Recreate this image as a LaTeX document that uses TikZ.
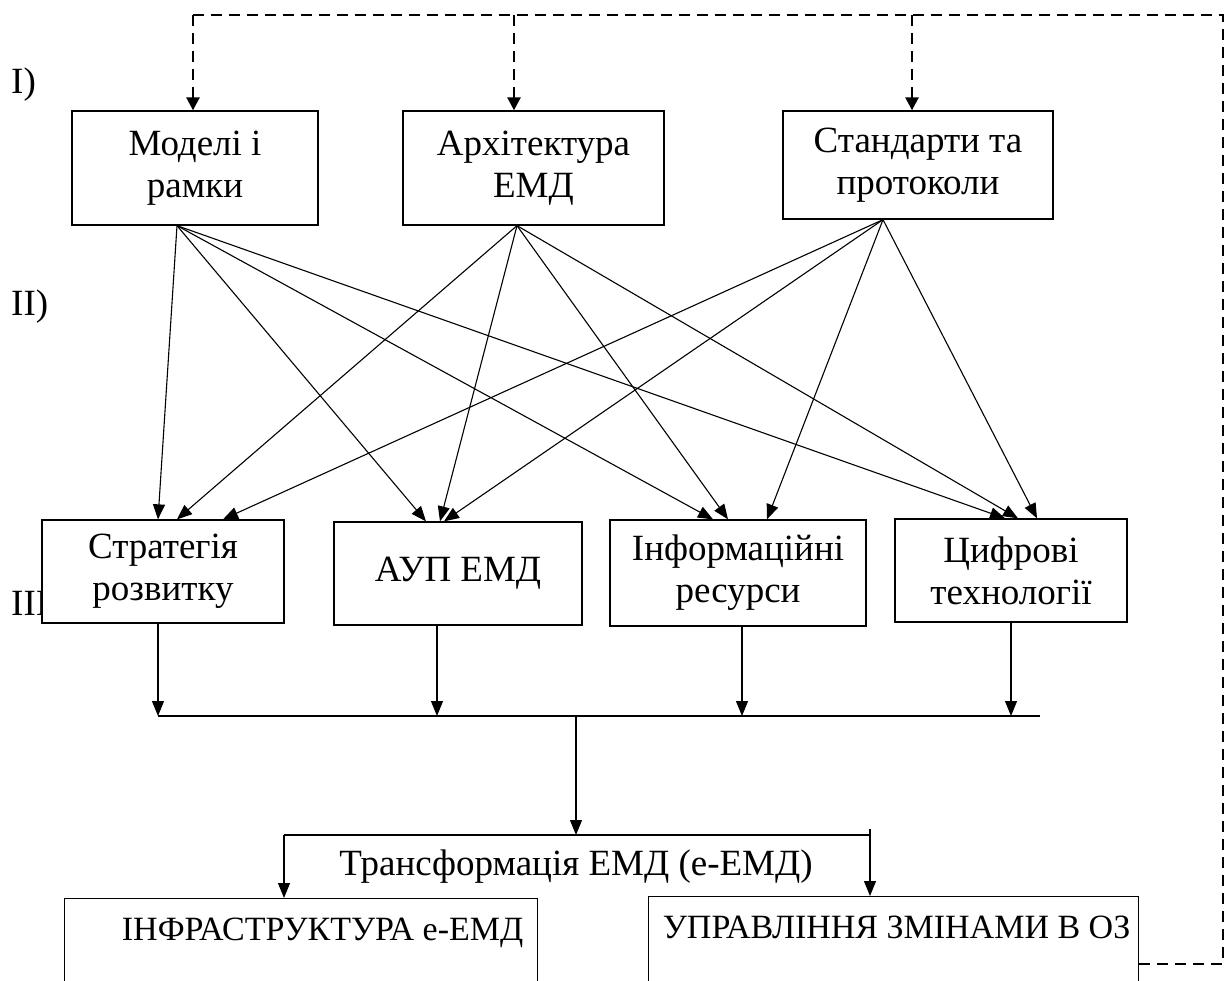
\documentclass[tikz,border=0pt]{standalone}
\usepackage{fontspec}
\setmainfont{Liberation Serif}
\usetikzlibrary{arrows.meta}

\tikzset{
  box/.style={draw, line width=1.3pt, fill=white, inner sep=0pt, align=center,
              font=\fontsize{37}{42}\selectfont},
  wide/.style={draw, line width=1.3pt, fill=white, inner xsep=0pt, inner ysep=0pt,
               anchor=north west, font=\fontsize{34}{38}\selectfont,
               text height=42pt, text depth=200pt},
  link/.style={line width=1.1pt, -{Triangle[length=15pt,width=12pt]}},
  plain/.style={line width=1.1pt},
  feedback/.style={line width=2.6pt, dash pattern=on 11pt off 7pt},
  feedarrow/.style={feedback, -{Triangle[length=13pt,width=13pt]}},
  tag/.style={font=\fontsize{37}{42}\selectfont, inner sep=0pt}
}

\begin{document}
\begin{tikzpicture}[x=1pt, y=-1pt]
\path[use as bounding box] (0,0) rectangle (1225,981);
\clip (0,0) rectangle (1225,981);

% level labels
\node[tag, anchor=west] (l1) at (11,85) {I)};
\node[tag, anchor=west] (l2) at (11,307) {II)};
\node[tag, anchor=west] (l3) at (11,607) {III)};

% first level
\node[box, minimum width=246, minimum height=114] (A) at (195,168) {Моделі і\\рамки};
\node[box, minimum width=261, minimum height=114] (B) at (533.5,168) {Архітектура\\ЕМД};
\node[box, minimum width=270, minimum height=108] (C) at (918,165) {Стандарти та\\протоколи};

% second level
\node[box, minimum width=242, minimum height=103] (S) at (163,571.5) {Стратегія\\розвитку};
\node[box, minimum width=248, minimum height=103] (U) at (458,573.5) {АУП ЕМД};
\node[box, minimum width=256, minimum height=106] (I) at (738,573) {Інформаційні\\ресурси};
\node[box, minimum width=232, minimum height=103] (D) at (1011,570.5) {Цифрові\\технології};

% third level (boxes run past the lower edge)
\node[wide, minimum width=473] (L) at (64,898) {\hspace*{43pt}ІНФРАСТРУКТУРА e-ЕМД};
\node[wide, minimum width=490] (R) at (648,896) {\hspace*{6pt}УПРАВЛІННЯ ЗМІНАМИ В ОЗ};
\node[tag] (T) at (576,867) {Трансформація ЕМД (е-ЕМД)};

% links from the first level to the second
\draw[link] (A.south -| 177,0) -- (S.north -| 158,0);
\draw[link] (A.south -| 177,0) -- (U.north -| 426,0);
\draw[link] (A.south -| 177,0) -- (I.north -| 713,0);
\draw[link] (A.south -| 177,0) -- (D.north -| 1005,0);

\draw[link] (B.south -| 517,0) -- (S.north -| 177,0);
\draw[link] (B.south -| 517,0) -- (U.north -| 440,0);
\draw[link] (B.south -| 517,0) -- (I.north -| 728,0);
\draw[link] (B.south -| 517,0) -- (D.north -| 1018,0);

\draw[link] (C.south -| 883,0) -- (S.north -| 223,0);
\draw[link] (C.south -| 883,0) -- (U.north -| 444,0);
\draw[link] (C.south -| 883,0) -- (I.north -| 767,0);
\draw[link] (C.south -| 883,0) -- (D.north -| 1037,0);

% collecting bus
\coordinate (busL) at (158,716);
\coordinate (busR) at (1040,716);
\draw[plain] (busL) -- (busR);
\draw[link] (S.south -| 158,0) -- (busL);
\draw[link] (U.south -| 437,0) -- (busL -| 437,0);
\draw[link] (I.south -| 742,0) -- (busL -| 742,0);
\draw[link] (D.south -| 1011,0) -- (busL -| 1011,0);

% transformation split
\coordinate (splitL) at (284,835);
\coordinate (splitR) at (870,835);
\draw[link] (busL -| 576,0) -- (splitL -| 576,0);
\draw[plain] (splitL) -- (splitR) -- ++(0,-6);
\draw[link] (splitL) -- (L.north -| splitL);
\draw[link] (splitR) -- (R.north -| splitR);

% feedback loop
\coordinate (fbR) at (1223,15);
\draw[feedback] ([yshift=-68pt]R.north east) -- ([yshift=-68pt]R.north east -| fbR) -- (fbR) -- (193,15);
\draw[feedarrow] (193,15) -- (A.north -| 193,0);
\draw[feedarrow] (514,15) -- (B.north -| 514,0);
\draw[feedarrow] (912,15) -- (C.north -| 912,0);
\end{tikzpicture}
\end{document}
